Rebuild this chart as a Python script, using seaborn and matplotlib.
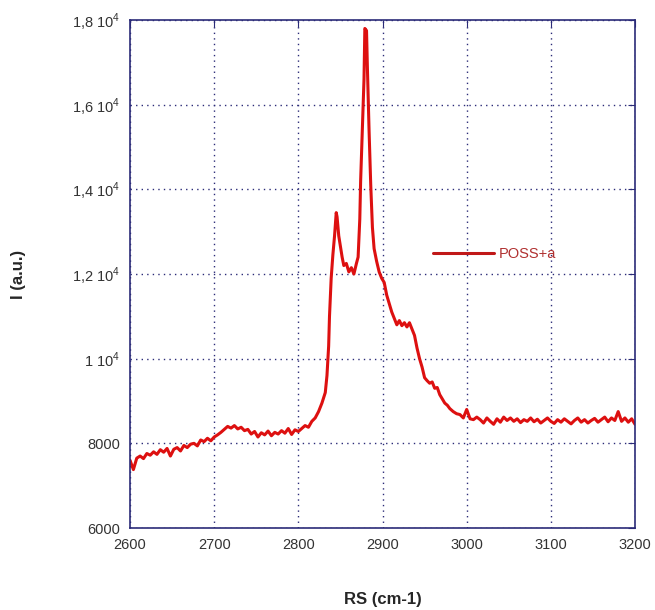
import pandas as pd
import matplotlib
matplotlib.use("Agg")
import matplotlib.pyplot as plt
import seaborn as sns

# Raman shift (cm-1) and intensity (a.u.)
raman_shift = [
    2600, 2604, 2608, 2612, 2616, 2620, 2624, 2628, 2632, 2636,
    2640, 2644, 2648, 2652, 2656, 2660, 2664, 2668, 2672, 2676,
    2680, 2684, 2688, 2692, 2696, 2700, 2704, 2708, 2712, 2716,
    2720, 2724, 2728, 2732, 2736, 2740, 2744, 2748, 2752, 2756,
    2760, 2764, 2768, 2772, 2776, 2780, 2784, 2788, 2792, 2796,
    2800, 2804, 2808, 2812, 2816, 2820, 2824,
    2828, 2832, 2834, 2836, 2837, 2839, 2841, 2843, 2845, 2846,
    2848, 2850, 2852, 2854, 2857, 2860, 2863, 2866, 2869, 2871,
    2873, 2874, 2876, 2878, 2879, 2881, 2882, 2884, 2886, 2888,
    2890, 2893, 2896, 2899, 2902, 2905, 2908, 2911, 2914, 2917,
    2920, 2923, 2926, 2929, 2932, 2935, 2938, 2941, 2944, 2947,
    2950, 2953, 2956, 2959, 2962, 2965, 2968, 2971, 2974, 2977,
    2980, 2984, 2988, 2992, 2996, 3000, 3004, 3008, 3012,
    3016, 3020, 3024, 3028, 3032, 3036, 3040, 3044, 3048, 3052,
    3056, 3060, 3064, 3068, 3072, 3076, 3080, 3084, 3088, 3092,
    3096, 3100, 3104, 3108, 3112, 3116, 3120, 3124, 3128, 3132,
    3136, 3140, 3144, 3148, 3152, 3156, 3160, 3164, 3168, 3172,
    3176, 3180, 3184, 3188, 3192, 3196, 3200,
]
intensity = [
    7600, 7380, 7650, 7700, 7640, 7760, 7720, 7800, 7740, 7850,
    7790, 7880, 7700, 7860, 7900, 7820, 7950, 7900, 7980, 8000,
    7940, 8080, 8040, 8120, 8060, 8150, 8200, 8260, 8330, 8400,
    8360, 8420, 8340, 8380, 8300, 8330, 8220, 8280, 8150, 8250,
    8200, 8290, 8180, 8260, 8220, 8300, 8240, 8350, 8210, 8320,
    8280, 8350, 8420, 8380, 8520, 8600, 8750,
    8950, 9200, 9600, 10300, 11000, 11900, 12450, 12900, 13450, 13350,
    12900, 12650, 12400, 12200, 12250, 12050, 12150, 12000, 12250, 12400,
    13300, 14200, 15400, 16600, 17800, 17750, 16900, 15400, 14100, 13100,
    12600, 12300, 12050, 11900, 11800, 11500, 11300, 11100, 10950, 10800,
    10900, 10780, 10850, 10750, 10850, 10700, 10550, 10250, 10000, 9800,
    9550, 9480, 9420, 9450, 9300, 9320, 9150, 9050, 8950, 8900,
    8820, 8750, 8700, 8680, 8600, 8800, 8580, 8560, 8620,
    8560, 8480, 8600, 8520, 8450, 8580, 8500, 8620, 8540, 8600,
    8520, 8580, 8490, 8560, 8520, 8600, 8510, 8570, 8480, 8540,
    8600, 8520, 8470, 8560, 8500, 8580, 8520, 8460, 8540, 8600,
    8500, 8560, 8480, 8540, 8590, 8500, 8560, 8620, 8510, 8600,
    8540, 8750, 8520, 8600, 8500, 8580, 8450,
]
series_name = "POSS+a"

x_ticks = [2600, 2700, 2800, 2900, 3000, 3100, 3200]
y_ticks = [6000, 8000, 10000, 12000, 14000, 16000, 18000]
y_tick_labels = ["6000", "8000", r"1 10$^{4}$", r"1,2 10$^{4}$",
                 r"1,4 10$^{4}$", r"1,6 10$^{4}$", r"1,8 10$^{4}$"]

df = pd.DataFrame({"RS": raman_shift, "I": intensity, "sample": series_name})

sns.set_style("white")
plt.rcParams["font.family"] = ["Liberation Sans", "DejaVu Sans"]
plt.rcParams["mathtext.fontset"] = "custom"
plt.rcParams["mathtext.rm"] = "Liberation Sans"

fig = plt.figure(figsize=(6.55, 6.1), dpi=100)
ax = fig.add_axes([0.1985, 0.1344, 0.771, 0.8328])

navy = "#2b2b78"
sns.lineplot(data=df, x="RS", y="I", hue="sample", palette=["#dd1010"],
             sort=False, linewidth=2.2, ax=ax)

ax.set_xlim(2600, 3200)
ax.set_ylim(6000, 18000)
ax.set_xticks(x_ticks)
ax.set_yticks(y_ticks)
ax.set_yticklabels(y_tick_labels)
ax.grid(True, linestyle=(0, (1, 3)), color=navy, linewidth=1.0)
ax.tick_params(direction="in", length=5, color=navy, labelsize=10.5,
               labelcolor="#333333", top=True, right=True, pad=7)
for sp in ax.spines.values():
    sp.set_color(navy)
    sp.set_linewidth(1.2)

ax.set_xlabel("RS (cm-1)", fontsize=12, fontweight="bold", labelpad=29)
ax.set_ylabel("I (a.u.)", fontsize=12, fontweight="bold", labelpad=33)

leg = ax.legend(loc="center left", bbox_to_anchor=(0.6, 0.54), frameon=False,
                handlelength=4.2, handletextpad=0.3, borderpad=0,
                borderaxespad=0, fontsize=10.5)
for t in leg.get_texts():
    t.set_color("#b03030")
for h in leg.get_lines():
    h.set_color("#c01818")
    h.set_linewidth(2.2)

fig.savefig("out.png", dpi=100)
